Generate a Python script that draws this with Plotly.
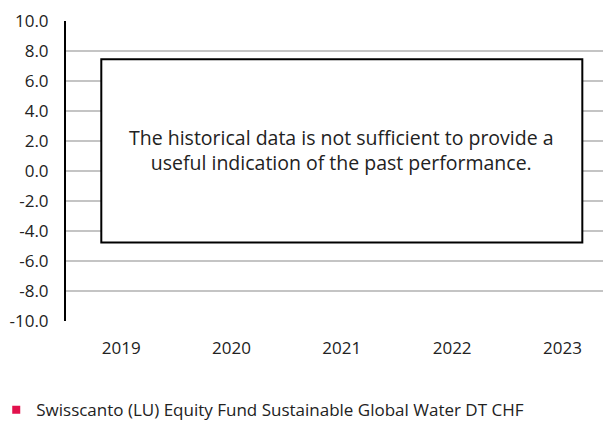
import plotly.graph_objects as go

years = ["2019", "2020", "2021", "2022", "2023"]
fund_returns = [None, None, None, None, None]
series_name = "Swisscanto (LU) Equity Fund Sustainable Global Water DT CHF"
notice = "The historical data is not sufficient to provide a<br>useful indication of the past performance."
y_ticks = [-10, -8, -6, -4, -2, 0, 2, 4, 6, 8, 10]
y_tick_text = ["%.1f" % v for v in y_ticks]

FONT = "Open Sans"
TXT = "#222222"

fig = go.Figure()
fig.add_trace(go.Scatter(
    x=years, y=fund_returns, name=series_name, mode="markers",
    marker=dict(symbol="square", size=8, color="#e2114c"),
))

fig.add_shape(type="rect", xref="x", yref="y", x0=-0.18, x1=4.18, y0=-4.77, y1=7.45,
              line=dict(color="#000000", width=2), fillcolor="rgba(255,255,255,1)", layer="above")
fig.add_annotation(x=2, y=1.4, xref="x", yref="y", text=notice, showarrow=False,
                   font=dict(family=FONT, size=19.5, color=TXT), align="center")

# the page body has an 8px default margin, so the figure is shifted by 8px
fig.update_layout(
    width=603, height=413,
    margin=dict(l=58, r=0, t=13, b=100, pad=0, autoexpand=False),
    paper_bgcolor="white", plot_bgcolor="white",
    font=dict(family=FONT, size=17, color=TXT),
    showlegend=True,
    legend=dict(orientation="h", x=-0.128, xanchor="left", y=-0.297, yanchor="middle",
                font=dict(family=FONT, size=17, color=TXT), itemwidth=30),
    xaxis=dict(type="category", categoryorder="array", categoryarray=years,
               range=[-0.5, 4.44], showgrid=False, showline=False, zeroline=False,
               ticks="", ticklabelstandoff=15, tickfont=dict(family=FONT, size=17, color=TXT)),
    yaxis=dict(range=[-10, 10], tickvals=y_ticks, ticktext=y_tick_text,
               showgrid=True, gridcolor="#c4c4c4", gridwidth=2,
               zeroline=False, showline=True, linecolor="#000000", linewidth=2,
               ticks="", ticklabelstandoff=12, tickfont=dict(family=FONT, size=17, color=TXT)),
)

fig.write_html("out.html")
